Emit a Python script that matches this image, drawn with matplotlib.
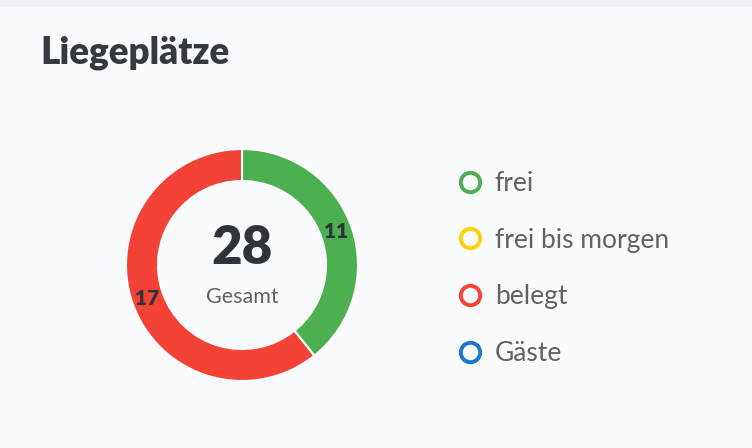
import numpy as np
import matplotlib.pyplot as plt
from matplotlib.lines import Line2D
from matplotlib.patches import Rectangle

plt.rcParams['font.family'] = ['Lato', 'DejaVu Sans']

# data
categories = ["frei", "frei bis morgen", "belegt", "Gäste"]
values = [11, 0, 17, 0]
colors = ["#4caf50", "#fdd20a", "#f44336", "#1976d2"]
total = sum(values)
title = "Liegeplätze"
center_label = "Gesamt"

W, H = 752, 448
fig = plt.figure(figsize=(W / 100, H / 100), dpi=100, facecolor="#fafbfd")

# top strip
fig.patches.append(Rectangle((0, 1 - 6 / H), 1, 6 / H, transform=fig.transFigure,
                             color="#edf0f4", zorder=0))

fig.text(40 / W, 1 - 64 / H, title, fontsize=26.6, fontweight="heavy",
         color="#343a40", va="baseline", ha="left")

# donut
cx, cy, r_out, r_in = 242, 265, 116, 84
half = 120
ax = fig.add_axes([(cx - half) / W, 1 - (cy + half) / H, 2 * half / W, 2 * half / H])
lim = half / r_out
ax.set_aspect("equal")
ax.axis("off")

shown = [(v, c) for v, c in zip(values, colors) if v > 0]
wedges, _ = ax.pie([v for v, _ in shown], colors=[c for _, c in shown],
                   startangle=90, counterclock=False, radius=1,
                   wedgeprops=dict(width=(r_out - r_in) / r_out, edgecolor="white",
                                   linewidth=1.5))
ax.set_xlim(-lim, lim)
ax.set_ylim(-lim, lim)

lab_r = (r_out + r_in) / 2 / r_out
for w, (v, _) in zip(wedges, shown):
    ang = np.deg2rad((w.theta1 + w.theta2) / 2)
    ax.text(lab_r * np.cos(ang), lab_r * np.sin(ang), str(v), ha="center", va="center",
            fontsize=15, fontweight="heavy", color="#2f343b")

ax.text(0, 17 / r_out, str(total), ha="center", va="center", fontsize=38,
        fontweight="heavy", color="#2f343b")
ax.text(0, -32 / r_out, center_label, ha="center", va="center", fontsize=15.5,
        color="#5f6368")

# legend
handles = [Line2D([], [], marker="o", linestyle="", markersize=14,
                  markerfacecolor="none", markeredgecolor=c, markeredgewidth=2.8)
           for c in colors]
fig.legend(handles, categories, loc="upper left",
           bbox_to_anchor=(444 / W, 1 - 158 / H), frameon=False,
           fontsize=19, labelcolor="#5f6368", labelspacing=1.195,
           handletextpad=0.42, handlelength=1.0, borderpad=0)

fig.savefig("out.png", dpi=100, facecolor=fig.get_facecolor())
